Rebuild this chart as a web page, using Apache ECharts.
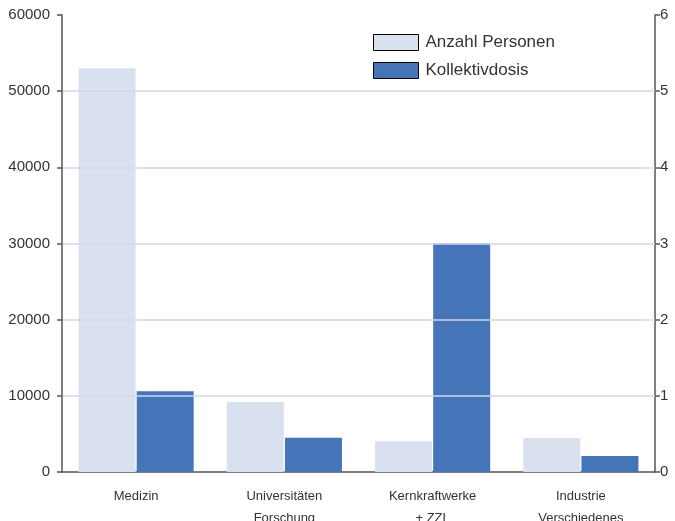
<!DOCTYPE html>
<html>
<head>
<meta charset="utf-8">
<script src="https://cdn.jsdelivr.net/npm/echarts@6/dist/echarts.min.js"></script>
<style>
  html, body { margin: 0; padding: 0; background: #fff; }
  #chart { width: 675px; height: 521px; }
</style>
</head>
<body>
<div id="chart"></div>
<script>
var categories = ['Medizin', 'Universitäten\nForschung', 'Kernkraftwerke\n+ ZZL', 'Industrie\nVerschiedenes']
var personen = [53000, 9200, 4050, 4450]
var dosis = [1.06, 0.45, 3.0, 0.21]

var myChart = echarts.init(document.getElementById('chart'))

var axisLineStyle = { color: '#555', width: 1.5 }
var fontName = 'Liberation Sans, Arial, sans-serif'

var option = {
    backgroundColor: '#ffffff',
    animation: false,
    grid: { left: 62, right: 20, top: 15, bottom: 49, outerBoundsMode: 'none' },
    legend: {
        orient: 'vertical',
        left: 368,
        top: 29,
        itemWidth: 45,
        itemHeight: 16,
        itemGap: 11,
        icon: 'rect',
        textStyle: { color: '#333', fontSize: 17, fontFamily: fontName, padding: [0, 0, 0, 2] },
        data: [
            { name: 'Anzahl Personen', itemStyle: { borderColor: '#000', borderWidth: 1 } },
            { name: 'Kollektivdosis', itemStyle: { borderColor: '#000', borderWidth: 1 } }
        ]
    },
    xAxis: {
        type: 'category',
        data: categories,
        axisLine: { lineStyle: axisLineStyle },
        axisTick: { show: false },
        axisLabel: { margin: 13, lineHeight: 22, interval: 0, color: '#333', fontSize: 13, fontFamily: fontName }
    },
    yAxis: [
        {
            type: 'value',
            min: 0,
            max: 60000,
            interval: 10000,
            z: 5,
            axisLine: { show: true, lineStyle: axisLineStyle },
            axisTick: { show: true, length: 5, lineStyle: axisLineStyle },
            axisLabel: {
                margin: 12, color: '#333', fontSize: 15, fontFamily: fontName,
                formatter: function (v) { return String(v) }
            },
            splitLine: { show: true, showMaxLine: false, showMinLine: false, lineStyle: { color: '#cfd7eb', width: 1.5 } }
        },
        {
            type: 'value',
            min: 0,
            max: 6,
            interval: 1,
            axisLine: { show: true, lineStyle: axisLineStyle },
            axisTick: { show: true, length: 5, lineStyle: axisLineStyle },
            axisLabel: { margin: 5, color: '#333', fontSize: 15, fontFamily: fontName },
            splitLine: { show: false }
        }
    ],
    series: [
        {
            name: 'Anzahl Personen',
            type: 'bar',
            yAxisIndex: 0,
            barWidth: 57,
            barGap: '2%',
            itemStyle: { color: '#d9e1ee' },
            data: personen
        },
        {
            name: 'Kollektivdosis',
            type: 'bar',
            yAxisIndex: 1,
            barWidth: 57,
            barGap: '2%',
            itemStyle: { color: '#4575b8' },
            data: dosis
        }
    ]
}

myChart.setOption(option)
</script>
</body>
</html>
